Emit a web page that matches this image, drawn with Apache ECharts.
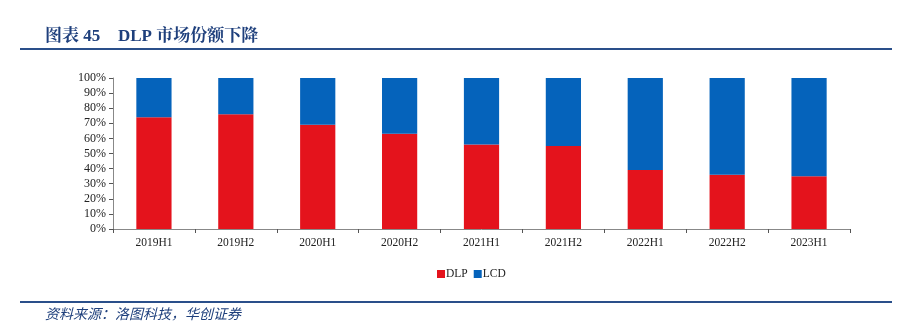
<!DOCTYPE html>
<html><head><meta charset="utf-8">
<script src="https://cdn.jsdelivr.net/npm/echarts@6/dist/echarts.min.js"></script>
<style>html,body{margin:0;padding:0;background:#fff}#c{width:911px;height:327px}</style>
</head><body><div id="c"></div>
<script>
const categories = ['2019H1','2019H2','2020H1','2020H2','2021H1','2021H2','2022H1','2022H2','2023H1'];
const dlp = [74, 76, 69, 63, 56, 55, 39, 36, 35];
const lcd = [26, 24, 31, 37, 44, 45, 61, 64, 65];
const yTicks = [0,10,20,30,40,50,60,70,80,90,100];
const chart = echarts.init(document.getElementById('c'), null, {renderer:'canvas'});
const serif = '"Times New Roman","Liberation Serif","DejaVu Serif",serif';
const titleFont = 'bold 17px "Liberation Serif","Noto Serif CJK SC","Noto Sans CJK SC",serif';
chart.setOption({
  animation:false,
  graphic:[
    {type:'text', left:45, top:28, style:{text:'图表 45', font:titleFont, fill:'#1e3f7c'}},
    {type:'text', left:118, top:28, style:{text:'DLP 市场份额下降', font:titleFont, fill:'#1e3f7c'}},
    {type:'rect', shape:{x:20,y:48,width:872,height:2}, style:{fill:'#2a4f8a'}},
    {type:'rect', shape:{x:20,y:301,width:872,height:2}, style:{fill:'#2a4f8a'}},
    {type:'text', left:45, top:307, style:{text:'资料来源：洛图科技，华创证券', font:'italic 14px "Noto Sans CJK SC",sans-serif', fill:'#1e3f7c'}}
  ],
  legend:{data:['DLP','LCD'], left:432, top:263, itemWidth:8, itemHeight:8, itemGap:6, icon:'rect',
    textStyle:{fontFamily:serif, fontSize:11.5, color:'#222', padding:[0,0,0,-4]}},
  grid:{left:113, right:61, top:78, bottom:98},
  xAxis:{type:'category', data:categories,
    axisLine:{lineStyle:{color:'#888'}}, axisTick:{show:true, length:4, lineStyle:{color:'#555'}},
    axisLabel:{fontFamily:serif, fontSize:11.5, color:'#222', margin:8}},
  yAxis:{type:'value', min:0, max:100, interval:10,
    axisLine:{show:true, lineStyle:{color:'#888'}}, axisTick:{show:true, length:4, lineStyle:{color:'#555'}},
    splitLine:{show:false},
    axisLabel:{fontFamily:serif, fontSize:12, color:'#222', margin:7, formatter:v=>v+'%'}},
  series:[
    {name:'DLP', type:'bar', stack:'a', data:dlp, barWidth:'43%', itemStyle:{color:'#e4131c'}},
    {name:'LCD', type:'bar', stack:'a', data:lcd, barWidth:'43%', itemStyle:{color:'#0563bb'}}
  ]
});
</script></body></html>
